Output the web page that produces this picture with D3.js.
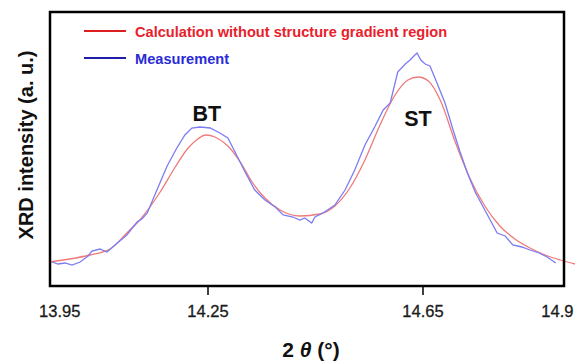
<!DOCTYPE html>
<html><head><meta charset="utf-8">
<script src="https://cdn.jsdelivr.net/npm/d3@7"></script>
<style>body{margin:0;background:#fff}svg{display:block}</style>
</head><body>
<div id="chart"></div>
<script>
// 2θ (deg) and intensity (a.u.)
const calcTheta = [13.956,13.993,14.030,14.068,14.099,14.123,14.161,14.189,14.213,14.231,14.246,14.263,14.287,14.310,14.332,14.356,14.384,14.421,14.458,14.486,14.514,14.542,14.570,14.598,14.622,14.641,14.660,14.682,14.710,14.737,14.765,14.793,14.821,14.849,14.877,14.905,14.933];
const calcInt = [24,27,31,37,53,66,94,119,138,147,151,149,140,124,104,88,76,70,72,80,98,126,161,191,206,209,205,186,144,108,80,60,47,38,31,26,22];
const measTheta = [13.960,13.971,13.984,13.997,14.012,14.027,14.034,14.049,14.062,14.077,14.099,14.118,14.127,14.137,14.155,14.166,14.174,14.192,14.207,14.220,14.235,14.254,14.272,14.287,14.304,14.319,14.337,14.356,14.375,14.390,14.408,14.421,14.430,14.443,14.449,14.464,14.486,14.505,14.523,14.542,14.561,14.576,14.589,14.603,14.617,14.626,14.633,14.639,14.646,14.654,14.663,14.676,14.691,14.706,14.719,14.732,14.747,14.765,14.788,14.803,14.817,14.834,14.849,14.866,14.881,14.897];
const measInt = [24,22,23,21,24,30,35,37,34,41,51,64,67,73,96,110,120,138,151,158,159,158,153,148,130,114,96,86,79,71,69,66,68,63,69,73,81,96,116,141,160,176,183,214,222,226,230,233,226,222,220,203,183,156,134,114,94,76,53,50,41,39,36,33,29,23];
const tickValues = [14.25, 14.65];
const tickLabels = [{v:13.95,t:"13.95",dx:13},{v:14.25,t:"14.25",dx:0},{v:14.65,t:"14.65",dx:0},{v:14.9,t:"14.9",dx:0}];
const legendItems = [{label:"Calculation without structure gradient region", color:"#e8212b", line:"#dc2020"},{label:"Measurement", color:"#2b2bd6", line:"#1e1eaa"}];
const peakLabels = [{t:"BT", x:14.248, y:165},{t:"ST", x:14.6405, y:160}];

const W=575,H=363;
const svg=d3.select("#chart").append("svg").attr("width",W).attr("height",H);
const font="'Liberation Sans', Arial, Helvetica, sans-serif";
const x=d3.scaleLinear().domain([14.25,14.65]).range([208,423]);
const y=d3.scaleLinear().domain([0,274]).range([286,12]);

svg.append("path").datum(d3.zip(calcTheta,calcInt))
  .attr("d",d3.line().x(d=>x(d[0])).y(d=>y(d[1])).curve(d3.curveMonotoneX))
  .attr("fill","none").attr("stroke","#f07a7a").attr("stroke-width",1.3);
svg.append("path").datum(d3.zip(measTheta,measInt))
  .attr("d",d3.line().x(d=>x(d[0])).y(d=>y(d[1])))
  .attr("fill","none").attr("stroke","#7c7cf2").attr("stroke-width",1.3);

// frame
svg.append("rect").attr("x",50).attr("y",12).attr("width",514).attr("height",274)
  .attr("fill","none").attr("stroke","#000").attr("stroke-width",2.5);
// ticks
svg.selectAll(".tk").data(tickValues).enter().append("line")
  .attr("x1",d=>x(d)).attr("x2",d=>x(d)).attr("y1",286).attr("y2",295)
  .attr("stroke","#000").attr("stroke-width",1.5);
svg.selectAll(".tl").data(tickLabels).enter().append("text")
  .attr("x",d=>x(d.v)+d.dx).attr("y",317).attr("text-anchor","middle")
  .attr("font-family",font).attr("font-size",16.5).attr("fill","#1a1a1a")
  .attr("stroke","#1a1a1a").attr("stroke-width",0.3).text(d=>d.t);

// legend
legendItems.forEach((d,i)=>{
  const yy=31+i*27;
  svg.append("line").attr("x1",84).attr("x2",126).attr("y1",yy).attr("y2",yy).attr("stroke",d.line).attr("stroke-width",2.2);
  svg.append("text").attr("x",135).attr("y",yy+6).attr("font-family",font).attr("font-weight","bold")
    .attr("font-size",14.6).attr("fill",d.color).text(d.label);
});

// peak labels
svg.selectAll(".pk").data(peakLabels).enter().append("text")
  .attr("x",d=>x(d.x)).attr("y",d=>y(d.y)).attr("text-anchor","middle")
  .attr("font-family",font).attr("font-weight","bold").attr("font-size",21.5).attr("fill","#111").text(d=>d.t);

// axis titles
svg.append("text").attr("transform","translate(33,145) rotate(-90)").attr("text-anchor","middle")
  .attr("font-family",font).attr("font-weight","bold").attr("font-size",20).attr("fill","#111").text("XRD intensity (a. u.)");
const xt=svg.append("text").attr("x",311).attr("y",357).attr("text-anchor","middle")
  .attr("font-family",font).attr("font-weight","bold").attr("font-size",21).attr("fill","#111");
xt.append("tspan").text("2 ");
xt.append("tspan").attr("font-style","italic").text("θ");
xt.append("tspan").text(" (°)");
</script>
</body></html>
